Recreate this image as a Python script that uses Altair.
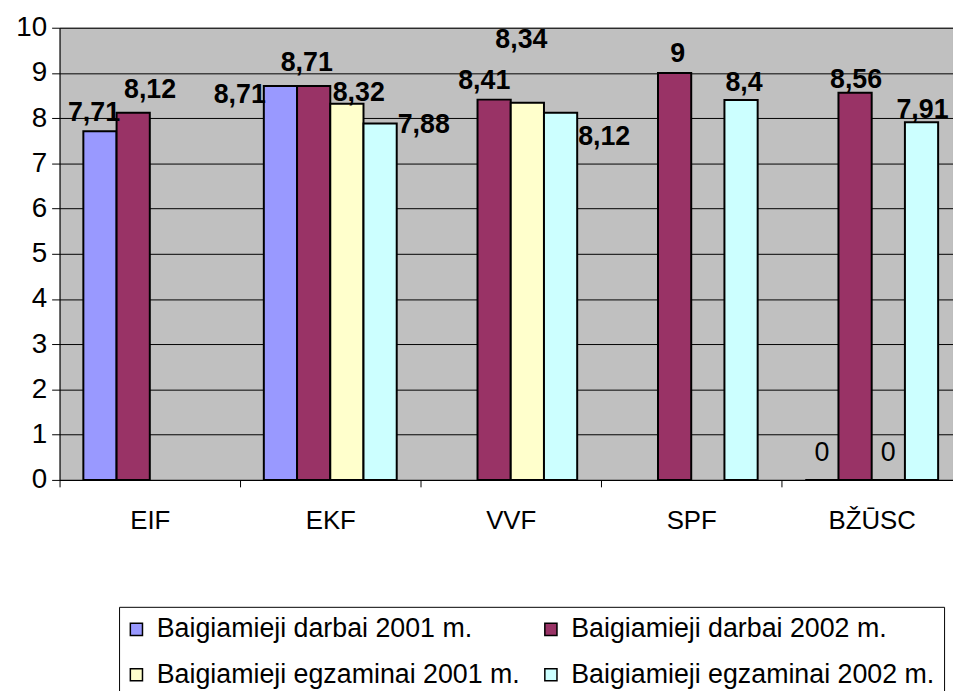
import altair as alt
import pandas as pd

# ---- data ----
categories = ["EIF", "EKF", "VVF", "SPF", "BŽŪSC"]
series = [
    "Baigiamieji darbai 2001 m.",
    "Baigiamieji darbai 2002 m.",
    "Baigiamieji egzaminai 2001 m.",
    "Baigiamieji egzaminai 2002 m.",
]
darbai_2001 = [7.71, 8.71, None, None, 0]
darbai_2002 = [8.12, 8.71, 8.41, 9, 8.56]
egzaminai_2001 = [None, 8.32, 8.34, None, 0]
egzaminai_2002 = [None, 7.88, 8.12, 8.4, 7.91]
y_ticks = list(range(0, 11))

# ---- style ----
colors = ["#9999FF", "#993366", "#FFFFCC", "#CCFFFF"]
FONT = "Liberation Sans"
# manual label nudges (dx, dy in px) relative to the top centre of each bar
label_nudge = {
    ("EIF", 0): (-6, -18), ("EIF", 1): (17, -23),
    ("EKF", 0): (-41, 9), ("EKF", 1): (-7, -23), ("EKF", 2): (12, -11), ("EKF", 3): (44, 1),
    ("VVF", 1): (-10, -19), ("VVF", 2): (-6, -63), ("VVF", 3): (44, 25),
    ("SPF", 1): (3, -19), ("SPF", 3): (3, -17),
    ("BŽŪSC", 0): (0, -27), ("BŽŪSC", 1): (1, -13), ("BŽŪSC", 2): (0, -27), ("BŽŪSC", 3): (1, -12),
}


def fmt(v):
    if float(v).is_integer():
        return str(int(v))
    return f"{v:g}".replace(".", ",")


rows = []
for si, vals in enumerate([darbai_2001, darbai_2002, egzaminai_2001, egzaminai_2002]):
    for ci, v in enumerate(vals):
        if v is None:
            continue
        rows.append({
            "category": categories[ci],
            "series": series[si],
            "value": v,
            "label": fmt(v),
            "key": f"{ci}-{si}",
        })
df = pd.DataFrame(rows)

x_enc = alt.X(
    "category:N",
    sort=categories,
    scale=alt.Scale(range=[0, 910], paddingInner=0, paddingOuter=0),
    axis=alt.Axis(
        title=None, labelAngle=0, labelFont=FONT, labelFontSize=26, labelColor="black",
        tickBand="extent", tickSize=7, tickColor="black", domainColor="black",
        labelPadding=34, labelBaseline="middle", grid=False,
    ),
)
xoff_enc = alt.XOffset(
    "series:N", sort=series,
    scale=alt.Scale(domain=series, paddingInner=0, paddingOuter=0.716),
)
y_enc = alt.Y(
    "value:Q",
    scale=alt.Scale(domain=[0, 10], nice=False),
    axis=alt.Axis(
        title=None, values=y_ticks, labelFont=FONT, labelFontSize=28, labelColor="black",
        tickSize=8, tickColor="black", domainColor="black", labelPadding=5,
        gridColor="black", gridWidth=1, gridOpacity=1,
    ),
)

bars = alt.Chart(df).mark_bar(stroke="black", strokeWidth=2).encode(
    x=x_enc, xOffset=xoff_enc, y=y_enc,
    color=alt.Color(
        "series:N", sort=series,
        scale=alt.Scale(domain=series, range=colors),
        legend=alt.Legend(
            title=None, orient="none", legendX=60, legendY=584, columns=2,
            direction="horizontal",
            strokeColor="black", fillColor="white", padding=9,
            symbolType="square", symbolSize=150, symbolStrokeColor="black",
            symbolStrokeWidth=1.5, symbolOpacity=1, symbolOffset=-5,
            labelFont=FONT, labelFontSize=27, labelColor="black",
            labelOffset=7, columnPadding=21, rowPadding=18, labelLimit=600,
        ),
    ),
)

layers = [bars]
for (cat, si), (dx, dy) in label_nudge.items():
    key = f"{categories.index(cat)}-{si}"
    v = df.loc[df.key == key, "value"].iloc[0]
    layers.append(
        alt.Chart(df).transform_filter(alt.datum.key == key).mark_text(
            font=FONT, fontSize=27, fontWeight="normal" if v == 0 else "bold",
            color="black", align="center", baseline="middle", dx=dx, dy=dy,
        ).encode(x=x_enc, xOffset=xoff_enc, y=y_enc, text="label:N")
    )

chart = alt.layer(*layers).properties(
    width=901, height=456,
    autosize=alt.AutoSizeParams(type="none"),
    padding={"left": 52, "top": 17, "right": 0, "bottom": 210},
    background="white",
).configure_view(fill="#C0C0C0", stroke="#808080", strokeWidth=1)

chart.save("out.html", embed_options={"renderer": "svg", "actions": False})
